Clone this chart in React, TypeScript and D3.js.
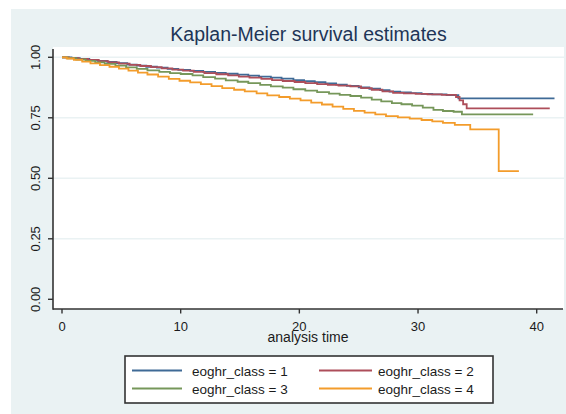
import React from "react";
import * as d3 from "d3";

const titleText = "Kaplan-Meier survival estimates";
const xLabel = "analysis time";
const xTicks = [0, 10, 20, 30, 40];
const yTicks = [0, 0.25, 0.5, 0.75, 1];
const gridTicks = [0.25, 0.5, 0.75, 1];

const groups = ["eoghr_class = 1", "eoghr_class = 2", "eoghr_class = 3", "eoghr_class = 4"];
const colors = ["#3f6a96", "#ad4e5a", "#76975a", "#f39c2b"];
const endTimes = [41.5, 41.1, 39.7, 38.5];

const g1: [number, number][] = [
  [0, 1], [0.8, 0.997], [1.5, 0.993], [2.3, 0.989], [3.0, 0.985], [3.8, 0.981], [4.6, 0.976], [5.5, 0.97],
  [6.3, 0.966], [7.1, 0.961], [8.0, 0.957], [8.9, 0.952], [9.8, 0.948], [10.8, 0.944], [11.9, 0.94],
  [12.9, 0.936], [13.8, 0.932], [14.8, 0.928], [15.7, 0.924], [16.6, 0.92], [17.6, 0.916], [18.5, 0.912],
  [19.5, 0.906], [20.4, 0.901], [21.3, 0.897], [22.2, 0.892], [23.1, 0.887], [24.0, 0.882], [25.0, 0.876],
  [25.9, 0.87], [26.8, 0.864], [27.6, 0.858], [28.5, 0.855], [29.4, 0.852], [30.3, 0.849], [31.2, 0.847],
  [32.4, 0.844], [33.4, 0.83],
];
const g2: [number, number][] = [
  [0, 1], [0.6, 0.997], [1.4, 0.993], [2.2, 0.989], [3.1, 0.984], [3.9, 0.979], [4.8, 0.974], [5.7, 0.969],
  [6.6, 0.964], [7.5, 0.959], [8.4, 0.954], [9.3, 0.949], [10.2, 0.945], [11.1, 0.94], [12.0, 0.935],
  [13.0, 0.93], [14.0, 0.925], [14.9, 0.92], [15.8, 0.916], [16.8, 0.911], [17.7, 0.906], [18.6, 0.902],
  [19.6, 0.898], [20.5, 0.893], [21.5, 0.889], [22.4, 0.886], [23.3, 0.883], [24.3, 0.88], [25.2, 0.873],
  [26.1, 0.866], [27.0, 0.859], [27.9, 0.853], [28.8, 0.851], [29.8, 0.849], [30.8, 0.847], [32.0, 0.845],
  [33.2, 0.836], [33.5, 0.822], [33.8, 0.806], [34.1, 0.789],
];
const g3: [number, number][] = [
  [0, 1], [0.5, 0.996], [1.2, 0.991], [2.0, 0.985], [2.8, 0.979], [3.6, 0.973], [4.5, 0.966], [5.4, 0.958],
  [6.3, 0.952], [7.2, 0.946], [8.2, 0.94], [9.1, 0.935], [10.0, 0.931], [11.0, 0.925], [11.9, 0.918],
  [12.9, 0.912], [13.8, 0.905], [14.8, 0.899], [15.7, 0.893], [16.7, 0.886], [17.6, 0.88], [18.6, 0.875],
  [19.5, 0.868], [20.5, 0.862], [21.5, 0.856], [22.5, 0.85], [23.4, 0.845], [24.3, 0.84], [25.2, 0.833],
  [26.1, 0.825], [26.9, 0.818], [27.8, 0.811], [28.6, 0.806], [29.5, 0.8], [30.4, 0.792], [31.3, 0.783],
  [32.1, 0.778], [33.0, 0.775], [33.7, 0.764],
];
const g4: [number, number][] = [
  [0, 1], [0.4, 0.995], [1.0, 0.989], [1.7, 0.982], [2.4, 0.975], [3.2, 0.968], [4.0, 0.961], [4.8, 0.953],
  [5.6, 0.945], [6.4, 0.937], [7.2, 0.929], [8.1, 0.92], [9.0, 0.911], [9.9, 0.903], [10.8, 0.896],
  [11.7, 0.889], [12.6, 0.881], [13.5, 0.873], [14.5, 0.866], [15.4, 0.859], [16.4, 0.851], [17.3, 0.843],
  [18.3, 0.836], [19.2, 0.829], [20.1, 0.822], [21.0, 0.813], [21.9, 0.805], [22.8, 0.796], [23.7, 0.787],
  [24.6, 0.779], [25.5, 0.771], [26.4, 0.764], [27.3, 0.757], [28.3, 0.752], [29.3, 0.747], [30.3, 0.741],
  [31.2, 0.735], [32.1, 0.729], [33.1, 0.721], [34.4, 0.702], [36.8, 0.53],
];
const seriesData = [g1, g2, g3, g4];

const W = 566;
const H = 414;
const plotLeft = 53;
const plotRight = 564;
const plotTop = 47;
const plotBottom = 309;

export default function App() {
  const x = d3.scaleLinear().domain([0, 40]).range([62, 536.7]);
  const y = d3.scaleLinear().domain([0, 1]).range([299.3, 57.3]);
  const line = d3
    .line<[number, number]>()
    .x((d) => x(d[0]))
    .y((d) => y(d[1]))
    .curve(d3.curveStepAfter);

  const font = "'Liberation Sans', Arial, sans-serif";
  const textColor = "#1b1b1b";

  const legendRows = [370.5, 388.5];
  const legendCols = [
    { lx1: 132, lx2: 182, tx: 192 },
    { lx1: 319, lx2: 372, tx: 378 },
  ];

  return (
    <svg width={W} height={H} style={{ position: "absolute", left: 0, top: 0 }} fontFamily={font}>
      <rect x={0} y={0} width={W} height={H} fill="#ffffff" />
      <rect x={11} y={9} width={W - 11} height={H - 9} fill="#eaf2f3" />
      <rect x={plotLeft} y={plotTop} width={plotRight - plotLeft} height={plotBottom - plotTop} fill="#ffffff" />
      {gridTicks.map((t) => (
        <line key={t} x1={plotLeft} x2={plotRight} y1={y(t)} y2={y(t)} stroke="#eaf2f3" strokeWidth={1.6} />
      ))}
      <text x={308.5} y={41} textAnchor="middle" fontSize={19.5} fill="#1e3557">
        {titleText}
      </text>
      {seriesData.map((s, i) => {
        const pts: [number, number][] = [...s, [endTimes[i], s[s.length - 1][1]]];
        return (
          <path key={i} d={line(pts) || ""} fill="none" stroke={colors[i]} strokeWidth={1.8} />
        );
      })}
      {/* axes */}
      <line x1={plotLeft} x2={plotLeft} y1={49} y2={plotBottom + 0.8} stroke="#333" strokeWidth={1.6} />
      <line x1={plotLeft} x2={plotRight - 1} y1={plotBottom} y2={plotBottom} stroke="#333" strokeWidth={1.6} />
      {yTicks.map((t) => (
        <g key={t}>
          <line x1={48} x2={plotLeft} y1={y(t)} y2={y(t)} stroke="#333" strokeWidth={1.4} />
          <text
            transform={`translate(${40},${y(t)}) rotate(-90)`}
            textAnchor="middle"
            fontSize={13}
            fill={textColor}
          >
            {d3.format(".2f")(t)}
          </text>
        </g>
      ))}
      {xTicks.map((t) => (
        <g key={t}>
          <line x1={x(t)} x2={x(t)} y1={plotBottom} y2={plotBottom + 4.5} stroke="#333" strokeWidth={1.4} />
          <text x={x(t)} y={331} textAnchor="middle" fontSize={13} fill={textColor}>
            {t}
          </text>
        </g>
      ))}
      <text x={308} y={342} textAnchor="middle" fontSize={14} fill={textColor}>
        {xLabel}
      </text>
      {/* legend */}
      <rect x={125} y={356} width={368} height={47} fill="#ffffff" stroke="#333" strokeWidth={1.6} />
      {groups.map((g, i) => {
        const row = legendRows[Math.floor(i / 2)];
        const col = legendCols[i % 2];
        return (
          <g key={g}>
            <line x1={col.lx1} x2={col.lx2} y1={row} y2={row} stroke={colors[i]} strokeWidth={1.8} />
            <text x={col.tx} y={row + 5} fontSize={13.5} fill={textColor}>
              {g}
            </text>
          </g>
        );
      })}
    </svg>
  );
}
